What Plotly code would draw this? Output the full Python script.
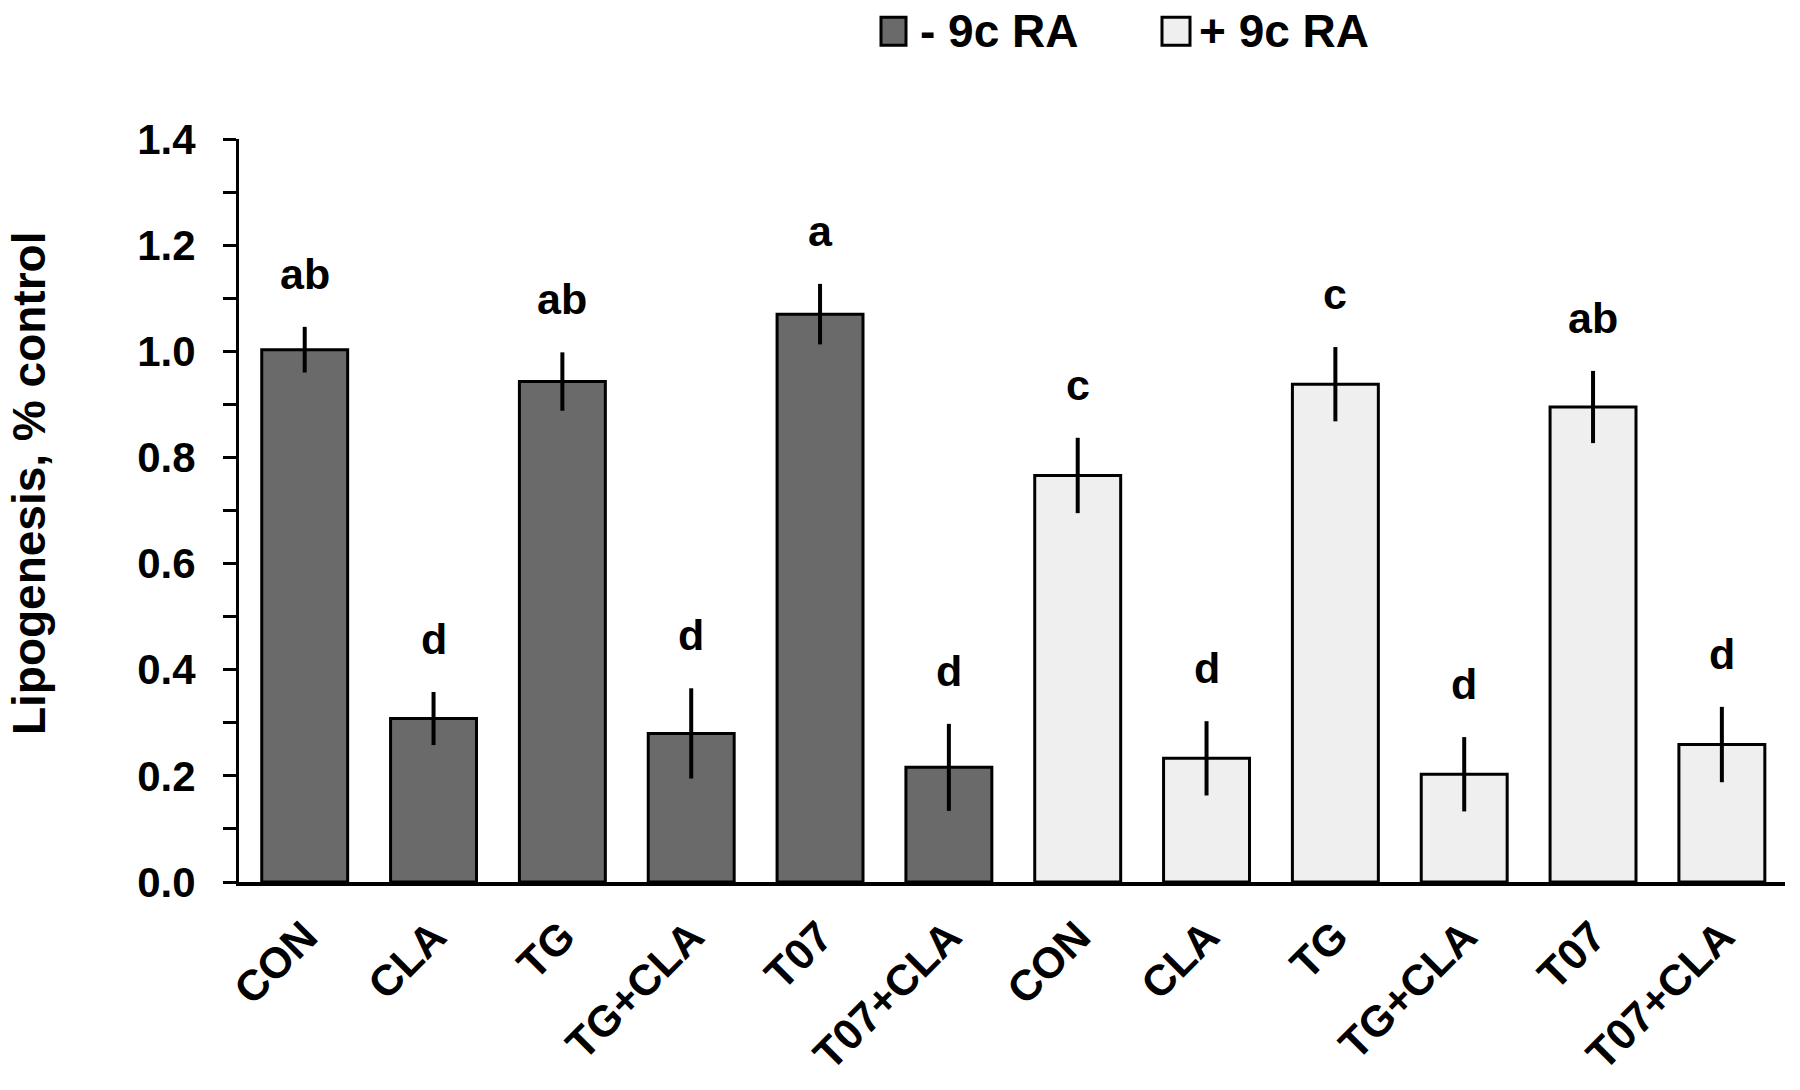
import plotly.graph_objects as go

# ---- data ----
categories = ["CON", "CLA", "TG", "TG+CLA", "T07", "T07+CLA"]
minus_vals = [1.003, 0.308, 0.943, 0.280, 1.070, 0.216]
minus_err = [0.043, 0.050, 0.055, 0.085, 0.057, 0.082]
minus_letters = ["ab", "d", "ab", "d", "a", "d"]
plus_vals = [0.766, 0.233, 0.938, 0.203, 0.895, 0.259]
plus_err = [0.071, 0.070, 0.070, 0.070, 0.068, 0.071]
plus_letters = ["c", "d", "c", "d", "ab", "d"]
series_names = ["- 9c RA", "+ 9c RA"]
y_title = "Lipogenesis, % control"

W, H = 1800, 1090
L, R, T, B = 239, 15, 139, 206
PW, PH = W - L - R, H - T - B

def px_x(x):
    return (x - L) / PW

def px_y(y):
    return 1 - (y - T) / PH

FONT = "Liberation Sans, Arial, sans-serif"
DARK = "#6a6a6a"
LIGHT = "#efefef"

n = len(categories)
x_minus = list(range(n))
x_plus = list(range(n, 2 * n))

fig = go.Figure()
for xs, vals, errs, col, name in [
    (x_minus, minus_vals, minus_err, DARK, series_names[0]),
    (x_plus, plus_vals, plus_err, LIGHT, series_names[1]),
]:
    fig.add_trace(go.Bar(
        x=xs, y=vals, name=name, width=0.667,
        marker=dict(color=col, line=dict(color="black", width=3)),
        error_y=dict(type="data", array=errs, visible=True, color="black",
                     thickness=4, width=0),
        showlegend=False,
    ))

# significance letters
for xs, vals, errs, letters in [
    (x_minus, minus_vals, minus_err, minus_letters),
    (x_plus, plus_vals, plus_err, plus_letters),
]:
    for xi, v, e, t in zip(xs, vals, errs, letters):
        fig.add_annotation(x=xi, y=v + e + 0.1, text=t, showarrow=False,
                           xref="x", yref="y", yanchor="middle",
                           font=dict(family=FONT, size=43, color="black", weight="bold"))

# y-axis title
fig.add_annotation(x=px_x(29), y=px_y(484), xref="paper", yref="paper",
                   text=y_title, textangle=-90, showarrow=False,
                   xanchor="center", yanchor="middle",
                   font=dict(family=FONT, size=46, color="black", weight="bold"))

# manual legend
legend_items = [
    (881, 906, 918, DARK, series_names[0]),
    (1162, 1190, 1197, LIGHT, series_names[1]),
]
for x0, x1, tx, col, name in legend_items:
    fig.add_shape(type="rect", xref="paper", yref="paper",
                  x0=px_x(x0), x1=px_x(x1), y0=px_y(45), y1=px_y(17),
                  fillcolor=col, line=dict(color="black", width=3))
    fig.add_annotation(x=px_x(tx), y=px_y(31), xref="paper", yref="paper",
                       text=name, showarrow=False, xanchor="left", yanchor="middle",
                       font=dict(family=FONT, size=46, color="black", weight="bold"))

fig.update_layout(
    width=W, height=H,
    margin=dict(l=L, r=R, t=T, b=B),
    plot_bgcolor="white", paper_bgcolor="white",
    barmode="overlay",
    font=dict(family=FONT, color="black"),
)
fig.update_xaxes(
    range=[-0.51, 11.49],
    tickmode="array", tickvals=x_minus + x_plus, ticktext=categories + categories,
    tickangle=-45, ticks="", showline=True, linecolor="black", linewidth=4,
    showgrid=False, zeroline=False, ticklabelstandoff=8,
    tickfont=dict(family=FONT, size=43, color="black", weight="bold"),
)
fig.update_yaxes(
    range=[0, 1.4], tick0=0, dtick=0.2, tickformat=".1f",
    ticks="outside", ticklen=13, tickwidth=3, tickcolor="black",
    minor=dict(dtick=0.1, ticks="outside", ticklen=13, tickwidth=3, tickcolor="black"),
    showline=True, linecolor="black", linewidth=3,
    showgrid=False, zeroline=False, ticklabelstandoff=19,
    tickfont=dict(family=FONT, size=42, color="black", weight="bold"),
)

fig.write_html("out.html")
